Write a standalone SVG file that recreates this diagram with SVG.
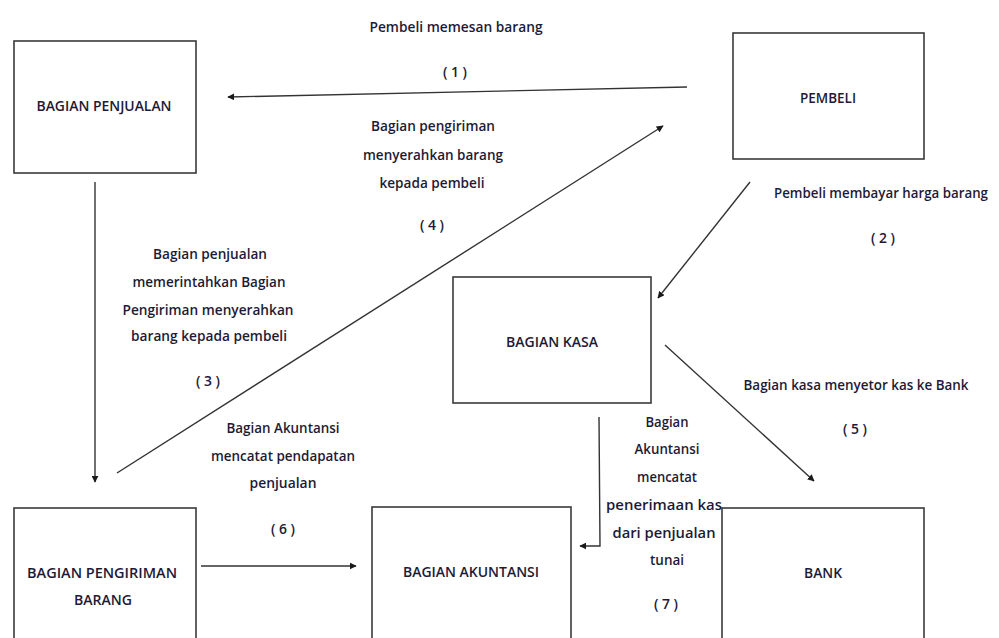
<svg xmlns="http://www.w3.org/2000/svg" width="999" height="638" viewBox="0 0 999 638">
<style>
  .box { fill: #ffffff; stroke: #3a3a3a; stroke-width: 1.6; }
  .line { fill: none; stroke: #333333; stroke-width: 1.4; }
  text { font-family: "Open Sans", "Liberation Sans", sans-serif; font-weight: 600; font-size: 15px; fill: #1e1a36; text-anchor: middle; dominant-baseline: central; }
  .tight { font-size: 13.5px; }
</style>
<defs>
  <marker id="arr" viewBox="0 0 10 10" refX="9" refY="5" markerWidth="7" markerHeight="7" markerUnits="userSpaceOnUse" orient="auto">
    <path d="M0,0 L10,5 L0,10 z" fill="#1a1a1a"/>
  </marker>
</defs>
<rect width="999" height="638" fill="#ffffff"/>

<g id="connectors">
  <line class="line" x1="687" y1="87" x2="228" y2="97" marker-end="url(#arr)"/>
  <line class="line" x1="750" y1="182" x2="658" y2="298" marker-end="url(#arr)"/>
  <line class="line" x1="95" y1="182" x2="95" y2="482" marker-end="url(#arr)"/>
  <line class="line" x1="117" y1="473" x2="663" y2="126" marker-end="url(#arr)"/>
  <line class="line" x1="665" y1="345" x2="814" y2="481" marker-end="url(#arr)"/>
  <line class="line" x1="201" y1="566" x2="356" y2="566" marker-end="url(#arr)"/>
  <polyline class="line" points="599,417 600,546 580,546" marker-end="url(#arr)"/>
</g>

<g id="node-penjualan">
  <rect class="box" x="14" y="41" width="182" height="132"/>
  <text x="104" y="105" textLength="135" lengthAdjust="spacingAndGlyphs">BAGIAN PENJUALAN</text>
</g>
<g id="node-pembeli">
  <rect class="box" x="733" y="33" width="191" height="126"/>
  <text x="828" y="97" textLength="56" lengthAdjust="spacingAndGlyphs">PEMBELI</text>
</g>
<g id="node-kasa">
  <rect class="box" x="453" y="277" width="198" height="126"/>
  <text x="552" y="341" textLength="92" lengthAdjust="spacingAndGlyphs">BAGIAN KASA</text>
</g>
<g id="node-pengiriman">
  <rect class="box" x="14" y="508" width="182" height="140"/>
  <text x="102" y="572" textLength="150" lengthAdjust="spacingAndGlyphs">BAGIAN PENGIRIMAN</text>
  <text x="103" y="599" textLength="58" lengthAdjust="spacingAndGlyphs">BARANG</text>
</g>
<g id="node-akuntansi">
  <rect class="box" x="372" y="507" width="199" height="140"/>
  <text x="471" y="571" textLength="136" lengthAdjust="spacingAndGlyphs">BAGIAN AKUNTANSI</text>
</g>
<g id="node-bank">
  <rect class="box" x="722" y="508" width="202" height="140"/>
  <text x="823" y="572" textLength="38" lengthAdjust="spacingAndGlyphs">BANK</text>
</g>

<g id="labels">
  <text x="456" y="26" textLength="173" lengthAdjust="spacingAndGlyphs">Pembeli memesan barang</text>
  <text x="455" y="71" textLength="24" lengthAdjust="spacingAndGlyphs">( 1 )</text>

  <text x="433" y="125" textLength="124" lengthAdjust="spacingAndGlyphs">Bagian pengiriman</text>
  <text x="433" y="154" textLength="140" lengthAdjust="spacingAndGlyphs">menyerahkan barang</text>
  <text x="432" y="182" textLength="105" lengthAdjust="spacingAndGlyphs">kepada pembeli</text>
  <text x="432" y="224" textLength="24" lengthAdjust="spacingAndGlyphs">( 4 )</text>

  <text class="tight" x="881" y="193" textLength="214" lengthAdjust="spacingAndGlyphs">Pembeli membayar harga barang</text>
  <text x="883" y="237" textLength="24" lengthAdjust="spacingAndGlyphs">( 2 )</text>

  <text x="210" y="253" textLength="114" lengthAdjust="spacingAndGlyphs">Bagian penjualan</text>
  <text x="209" y="281" textLength="153" lengthAdjust="spacingAndGlyphs">memerintahkan Bagian</text>
  <text x="208" y="309" textLength="171" lengthAdjust="spacingAndGlyphs">Pengiriman menyerahkan</text>
  <text x="209" y="335" textLength="156" lengthAdjust="spacingAndGlyphs">barang kepada pembeli</text>
  <text x="208" y="380" textLength="24" lengthAdjust="spacingAndGlyphs">( 3 )</text>

  <text x="283" y="427" textLength="113" lengthAdjust="spacingAndGlyphs">Bagian Akuntansi</text>
  <text x="283" y="455" textLength="144" lengthAdjust="spacingAndGlyphs">mencatat pendapatan</text>
  <text x="283" y="482" textLength="67" lengthAdjust="spacingAndGlyphs">penjualan</text>
  <text x="283" y="528" textLength="24" lengthAdjust="spacingAndGlyphs">( 6 )</text>

  <text x="856" y="384" textLength="225" lengthAdjust="spacingAndGlyphs">Bagian kasa menyetor kas ke Bank</text>
  <text x="855" y="428" textLength="24" lengthAdjust="spacingAndGlyphs">( 5 )</text>

  <text x="667" y="421" textLength="43" lengthAdjust="spacingAndGlyphs">Bagian</text>
  <text x="667" y="448" textLength="65" lengthAdjust="spacingAndGlyphs">Akuntansi</text>
  <text x="667" y="476" textLength="60" lengthAdjust="spacingAndGlyphs">mencatat</text>
  <text x="664" y="504" textLength="116" lengthAdjust="spacingAndGlyphs">penerimaan kas</text>
  <text x="664" y="532" textLength="103" lengthAdjust="spacingAndGlyphs">dari penjualan</text>
  <text x="667" y="559" textLength="34" lengthAdjust="spacingAndGlyphs">tunai</text>
  <text x="666" y="603" textLength="24" lengthAdjust="spacingAndGlyphs">( 7 )</text>
</g>
</svg>
